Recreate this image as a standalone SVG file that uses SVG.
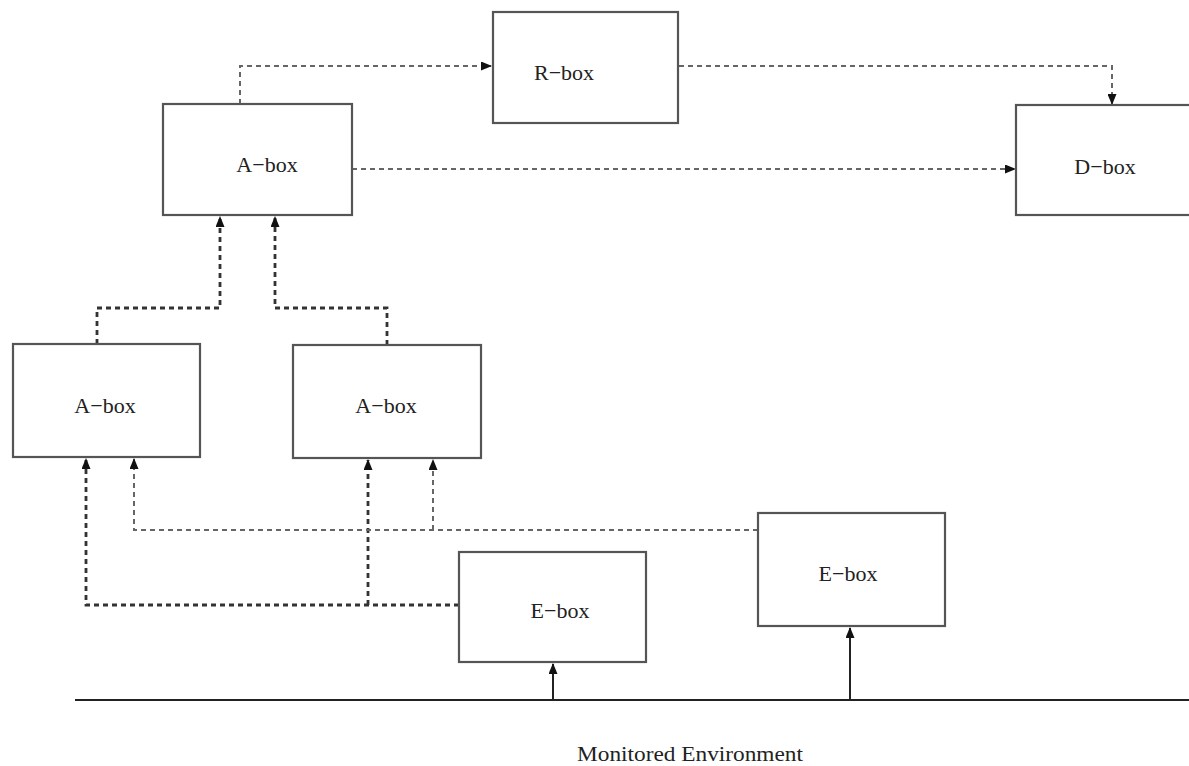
<svg xmlns="http://www.w3.org/2000/svg" width="1189" height="766" viewBox="0 0 1189 766">
<defs>
<marker id="ah" markerWidth="11" markerHeight="9" refX="10" refY="4.5" orient="auto" markerUnits="userSpaceOnUse">
<path d="M0,0 L11,4.5 L0,9 Z" fill="#111"/>
</marker>
<style>
.box{fill:#fff;stroke:#555;stroke-width:2.2}
.lbl{font-family:"Liberation Serif","Times New Roman",serif;font-size:22px;fill:#222;text-anchor:middle}
.d{fill:none;stroke:#666;stroke-width:2;stroke-dasharray:5 4}
.db{fill:none;stroke:#333;stroke-width:2.8;stroke-dasharray:5 4}
.s{fill:none;stroke:#222;stroke-width:2}
</style>
</defs>
<rect width="1189" height="766" fill="#fff"/>
<g id="connectors">
<path class="d" d="M240,104 V66 H491" marker-end="url(#ah)"/>
<path class="d" d="M679,66 H1112 V104" marker-end="url(#ah)"/>
<path class="d" d="M352,169 H1015" marker-end="url(#ah)"/>
<path class="db" d="M97,344 V308 H220 V217" marker-end="url(#ah)"/>
<path class="db" d="M387,345 V308 H275 V217" marker-end="url(#ah)"/>
<path class="db" d="M459,605 H86 V459" marker-end="url(#ah)"/>
<path class="db" d="M368,605 V460" marker-end="url(#ah)"/>
<path class="d" d="M758,530 H134 V459" marker-end="url(#ah)"/>
<path class="d" d="M433,530 V460" marker-end="url(#ah)"/>
<path class="s" d="M75,700 H1189"/>
<path class="s" d="M553,700 V664" marker-end="url(#ah)"/>
<path class="s" d="M850,700 V628" marker-end="url(#ah)"/>
</g>
<g id="rbox"><rect class="box" x="493" y="12" width="185" height="111"/><text class="lbl" x="564" y="80">R−box</text></g>
<g id="abox-top"><rect class="box" x="163" y="104" width="189" height="111"/><text class="lbl" x="267" y="172">A−box</text></g>
<g id="dbox"><rect class="box" x="1016" y="105" width="180" height="110"/><text class="lbl" x="1105" y="174">D−box</text></g>
<g id="abox-left"><rect class="box" x="13" y="344" width="187" height="113"/><text class="lbl" x="105" y="413">A−box</text></g>
<g id="abox-mid"><rect class="box" x="293" y="345" width="188" height="113"/><text class="lbl" x="386" y="413">A−box</text></g>
<g id="ebox-left"><rect class="box" x="459" y="552" width="187" height="110"/><text class="lbl" x="560" y="618">E−box</text></g>
<g id="ebox-right"><rect class="box" x="758" y="513" width="187" height="113"/><text class="lbl" x="848" y="581">E−box</text></g>
<text class="lbl" x="690" y="761" textLength="226" lengthAdjust="spacingAndGlyphs">Monitored Environment</text>
</svg>
